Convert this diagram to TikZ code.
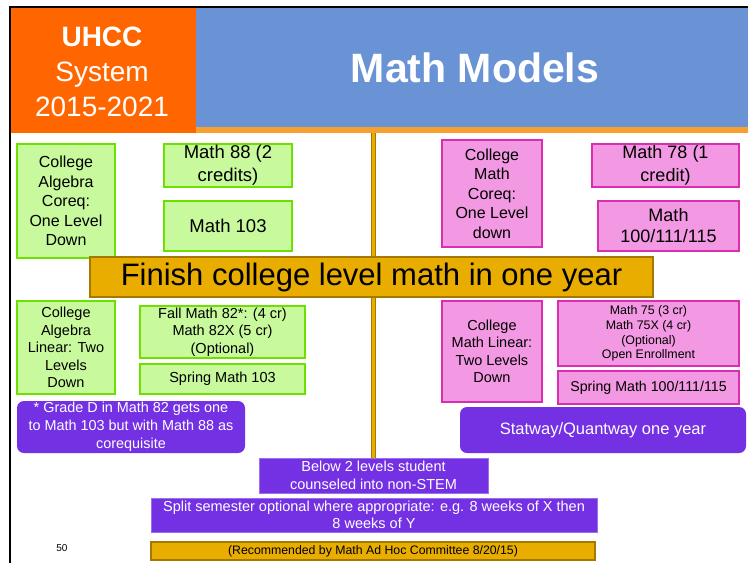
\documentclass[tikz,border=0pt]{standalone}
\usepackage{fontspec}
\setmainfont{Liberation Sans}

\definecolor{hdrorange}{RGB}{255,102,0}
\definecolor{hdrstrip}{RGB}{247,160,48}
\definecolor{hdrblue}{RGB}{106,147,213}
\definecolor{boxgreen}{RGB}{200,249,156}
\definecolor{boxgreenline}{RGB}{108,224,0}
\definecolor{boxpink}{RGB}{243,152,226}
\definecolor{boxpinkline}{RGB}{218,46,176}
\definecolor{boxpurple}{RGB}{116,49,228}
\definecolor{boxgold}{RGB}{233,173,0}
\definecolor{boxgoldline}{RGB}{165,120,0}

\newcommand{\setfs}[2]{\fontsize{#1}{#2}\selectfont}

\begin{document}
\begin{tikzpicture}[x=1pt,y=-1pt,
    greenbox/.style={draw=boxgreenline, fill=boxgreen, line width=1.2pt, align=center, inner sep=0pt},
    pinkbox/.style={draw=boxpinkline, fill=boxpink, line width=1.2pt, align=center, inner sep=0pt},
    notebox/.style={fill=boxpurple, rounded corners=7pt, text=white, align=center, inner sep=0pt},
    purplebox/.style={draw=boxpurple!70!white, fill=boxpurple, line width=0.8pt, text=white, align=center, inner sep=0pt},
    goldbox/.style={draw=boxgoldline, fill=boxgold, line width=2.2pt, align=center, inner sep=0pt}]

    % page and frame
    \fill[white] (0,0) rectangle (748,563);
    \useasboundingbox (0,0) rectangle (748,563);

    % header: orange block, blue title band and strip under it
    \fill[hdrorange] (10,8) rectangle (196,133);
    \fill[hdrblue] (196,8) rectangle (748,127);
    \fill[hdrstrip] (196,127) rectangle (748,133);
    \draw[black, line width=2pt] (10,563) -- (10,7) -- (748,7);
    \node[text=white, align=center, font=\setfs{28}{35}] (uhcc) at (102,72) {\textbf{UHCC}\\System\\2015-2021};
    \node[text=white, font=\bfseries\setfs{41}{48}] (title) at (475,68) {Math Models};

    % vertical bar behind the banner
    \coordinate (bartop) at (373.5,133);
    \coordinate (barbot) at (373.5,462);
    \draw[boxgoldline, line width=5.5pt] (bartop) -- (barbot);
    \draw[boxgold, line width=2.5pt] (bartop) -- (barbot);

    % college algebra, one level down
    \node[greenbox, minimum width=98pt, minimum height=114pt, font=\setfs{16}{19.5}] (algcoreq) at (66,201) {College\\Algebra\\Coreq:\\One Level\\Down};
    \node[greenbox, minimum width=128pt, minimum height=43pt, font=\setfs{18.5}{22.7}] (math88) at (228,165.5) {Math 88 (2\\credits)};
    \node[greenbox, minimum width=128pt, minimum height=50pt, font=\setfs{18.5}{22.7}] (math103) at (228,226) {Math 103};

    % college math, one level down
    \node[pinkbox, minimum width=100pt, minimum height=107pt, font=\setfs{16}{19.5}] (mathcoreq) at (492,193.5) {College\\Math\\Coreq:\\One Level\\down};
    \node[pinkbox, minimum width=147pt, minimum height=43pt, font=\setfs{18}{22.7}] (math78) at (665.5,165.5) {Math 78 (1\\credit)};
    \node[pinkbox, minimum width=141pt, minimum height=50pt, font=\setfs{18}{21}] (math100) at (668.5,226) {Math\\100/111/115};

    % banner
    \node[goldbox, minimum width=563pt, minimum height=40pt, font=\setfs{31}{36}] (finish) at (371.5,277) {Finish college level math in one year};

    % college algebra, two levels down
    \node[greenbox, minimum width=98pt, minimum height=93pt, font=\setfs{14.5}{17.5}] (alglinear) at (66,347.5) {College\\Algebra\\Linear: Two\\Levels\\Down};
    \node[greenbox, minimum width=165pt, minimum height=52pt, font=\setfs{14.5}{17.5}] (math82) at (222.5,332) {Fall Math 82*: (4 cr)\\Math 82X (5 cr)\\(Optional)};
    \node[greenbox, minimum width=165pt, minimum height=30pt, font=\setfs{14.5}{17.5}] (spring103) at (222.5,379) {Spring Math 103};
    \node[notebox, minimum width=228pt, minimum height=52pt, font=\setfs{14.4}{18}] (gradenote) at (131,427) {* Grade D in Math 82 gets one\\to Math 103 but with Math 88 as\\corequisite};

    % college math, two levels down
    \node[pinkbox, minimum width=100pt, minimum height=101pt, font=\setfs{14.5}{17.5}] (mathlinear) at (492,351.5) {College\\Math Linear:\\Two Levels\\Down};
    \node[pinkbox, minimum width=181pt, minimum height=65pt, font=\setfs{12.4}{14.7}] (math75) at (648.5,333.5) {Math 75 (3 cr)\\Math 75X (4 cr)\\(Optional)\\Open Enrollment};
    \node[pinkbox, minimum width=181pt, minimum height=33pt, font=\setfs{14.2}{17}] (spring100) at (648.5,387.5) {Spring Math 100/111/115};
    \node[notebox, minimum width=286pt, minimum height=46pt, font=\setfs{16.5}{20}] (statway) at (603,430) {Statway/Quantway one year};

    % bottom notes
    \node[purplebox, minimum width=229pt, minimum height=35pt, font=\setfs{14.5}{17.7}] (nonstem) at (373.5,475.5) {Below 2 levels student\\counseled into non-STEM};
    \node[purplebox, minimum width=446pt, minimum height=34pt, font=\setfs{14.5}{17}] (split) at (374,515) {Split semester optional where appropriate: e.g. 8 weeks of X then\\8 weeks of Y};
    \node[goldbox, line width=1.8pt, minimum width=444pt, minimum height=18pt, font=\setfs{12.3}{14}] (adhoc) at (373,551) {(Recommended by Math Ad Hoc Committee 8/20/15)};
    \node[font=\setfs{10}{12}] (pagenum) at (62,548) {50};

\end{tikzpicture}
\end{document}
